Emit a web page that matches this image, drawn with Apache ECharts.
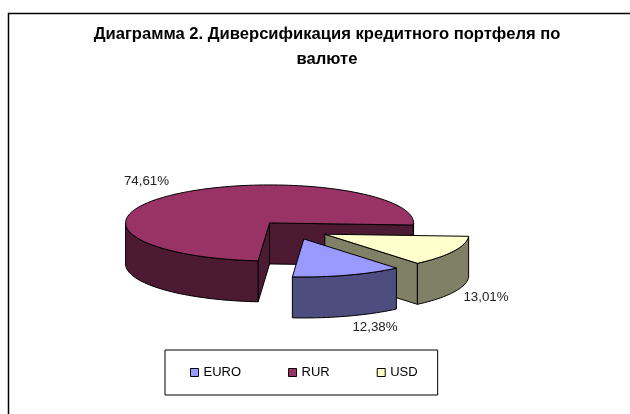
<!DOCTYPE html>
<html lang="ru">

<head>
    <meta charset="UTF-8">
    <title>Диаграмма 2</title>
    <script src="https://cdn.jsdelivr.net/npm/echarts@6/dist/echarts.min.js"></script>
    <style>
        html, body { margin: 0; padding: 0; background: #fff; }
        #container { width: 630px; height: 414px; }
    </style>
</head>

<body>
    <div id="container"></div>

    <script>
        var categories = ['EURO', 'RUR', 'USD'];
        var shares = [12.38, 74.61, 13.01];
        var topColors = ['#9999ff', '#993366', '#ffffcc'];
        var sideColors = ['#4d4d80', '#4d1a33', '#808066'];

        // the "3d" pie: tilted ellipse, excel style
        var cx = 293, cy = 230, rx = 144, ry = 38, depth = 41;
        var firstAngle = 140, explode = 35.6;
        var labelPos = { EURO: [375, 327.5], RUR: [146.5, 181], USD: [486, 297] };
        var drawOrder = [1, 2, 0];

        var rad = Math.PI / 180;
        var total = shares.reduce(function (a, b) { return a + b; }, 0);
        var angles = [];
        var acc = firstAngle;
        shares.forEach(function (v) {
            var end = acc + v / total * 360;
            angles.push([acc, end]);
            acc = end;
        });

        function rim(c, deg, dz) {
            return [c[0] + rx * Math.sin(deg * rad), c[1] - ry * Math.cos(deg * rad) + (dz || 0)];
        }

        function arc(c, from, to, dz) {
            var pts = [];
            var n = Math.max(2, Math.ceil(Math.abs(to - from) / 2));
            for (var i = 0; i <= n; i++) {
                pts.push(rim(c, from + (to - from) * i / n, dz));
            }
            return pts;
        }

        function poly(points, fill) {
            return {
                type: 'polygon',
                shape: { points: points },
                style: { fill: fill, stroke: '#000', lineWidth: 1 }
            };
        }

        function cutFace(c, deg, fill) {
            var e = rim(c, deg);
            return poly([c, e, [e[0], e[1] + depth], [c[0], c[1] + depth]], fill);
        }

        function renderSlice(i) {
            return function (params, api) {
                var a = angles[i][0], b = angles[i][1];
                var mid = (a + b) / 2;
                var c = [
                    cx + explode * Math.sin(mid * rad),
                    cy - explode * ry / rx * Math.cos(mid * rad)
                ];
                var kids = [];

                if (Math.sin(a * rad) < 0) kids.push(cutFace(c, a, sideColors[i]));
                if (Math.sin(b * rad) > 0) kids.push(cutFace(c, b, sideColors[i]));

                // outer wall, only the part facing the viewer (90..270 and again +360)
                [0, 360].forEach(function (k) {
                    var from = Math.max(a, 90 + k), to = Math.min(b, 270 + k);
                    if (to > from) {
                        kids.push(poly(arc(c, from, to, 0).concat(arc(c, to, from, depth)), sideColors[i]));
                    }
                });

                kids.push(poly([c].concat(arc(c, a, b, 0)), topColors[i]));

                kids.push({
                    type: 'text',
                    style: {
                        x: labelPos[categories[i]][0],
                        y: labelPos[categories[i]][1],
                        text: api.value(0).toFixed(2).replace('.', ',') + '%',
                        fill: '#222',
                        font: '13.33px "Liberation Sans", Arial, sans-serif',
                        align: 'center',
                        verticalAlign: 'middle'
                    }
                });

                return { type: 'group', children: kids };
            };
        }

        var series = drawOrder.map(function (i, order) {
            return {
                name: categories[i],
                type: 'custom',
                coordinateSystem: 'none',
                silent: true,
                z: 2 + order,
                itemStyle: { color: topColors[i] },
                data: [[shares[i]]],
                renderItem: renderSlice(i)
            };
        });

        var myChart = echarts.init(document.getElementById('container'));

        var option = {
            animation: false,
            backgroundColor: '#fff',
            title: {
                text: 'Диаграмма 2. Диверсификация кредитного портфеля по\nвалюте',
                left: 322,
                top: 17,
                textAlign: 'center',
                textStyle: {
                    fontFamily: '"Liberation Sans", Arial, sans-serif',
                    fontSize: 16.6,
                    fontWeight: 'bold',
                    color: '#000',
                    lineHeight: 25
                }
            },
            legend: {
                data: categories,
                left: 165,
                top: 350,
                orient: 'horizontal',
                padding: [16, 20, 16, 25],
                itemGap: 47,
                itemWidth: 8,
                itemHeight: 8,
                icon: 'rect',
                borderColor: '#000',
                borderWidth: 1,
                itemStyle: { borderColor: '#000', borderWidth: 1 },
                textStyle: {
                    fontFamily: '"Liberation Sans", Arial, sans-serif',
                    fontSize: 13,
                    color: '#000'
                }
            },
            graphic: [{
                type: 'polyline',
                shape: { points: [[8.5, 420], [8.5, 13.5], [640, 13.5]] },
                style: { fill: 'none', stroke: '#000', lineWidth: 1.5 },
                silent: true,
                z: 0
            }],
            series: series
        };

        myChart.setOption(option);
    </script>
</body>

</html>
